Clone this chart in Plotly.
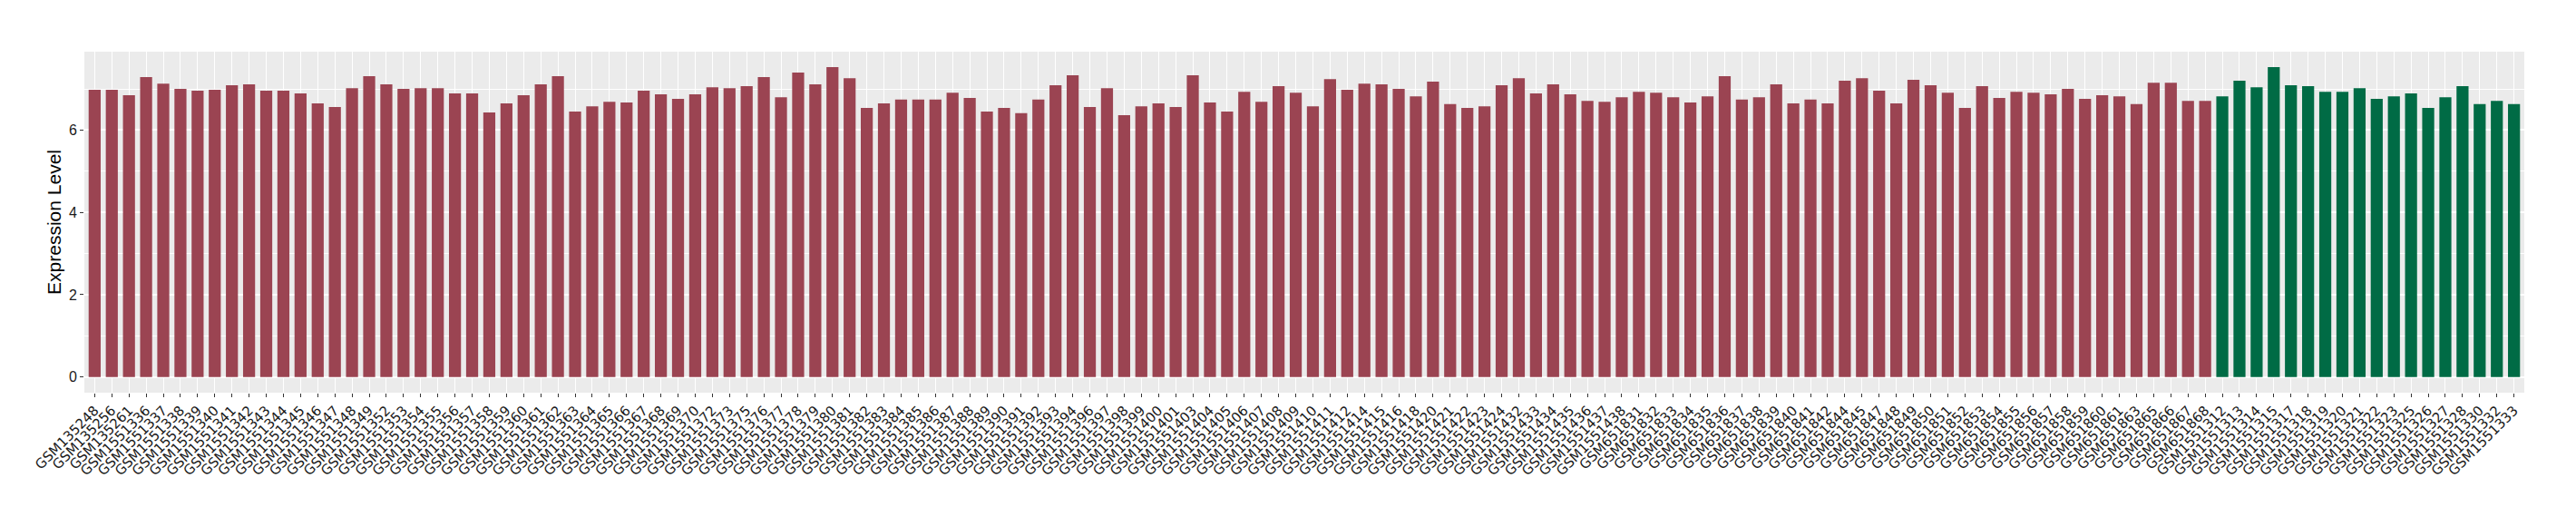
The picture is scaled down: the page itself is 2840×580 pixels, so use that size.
import plotly.graph_objects as go

red_samples = (
    ["GSM135248", "GSM135256", "GSM135261"]
    + ["GSM15513%d" % n for n in [36, 37, 38, 39, 40, 41, 42, 43, 44, 45, 46, 47, 48, 49,
                                  52, 53, 54, 55, 56, 57, 58, 59, 60, 61, 62, 63, 64, 65,
                                  66, 67, 68, 69, 70, 72, 73, 75, 76, 77, 78, 79, 80, 81,
                                  82, 83, 84, 85, 86, 87, 88, 89, 90, 91, 92, 93, 94, 96,
                                  97, 98, 99]]
    + ["GSM15514%02d" % n for n in [0, 1, 3, 4, 5, 6, 7, 8, 9, 10, 11, 12, 14, 15, 16, 18,
                                    20, 21, 22, 23, 24, 32, 33, 34, 35, 36, 37, 38]]
    + ["GSM6518%d" % n for n in [31, 32, 33, 34, 35, 36, 37, 38, 39, 40, 41, 42, 44, 45,
                                 47, 48, 49, 50, 51, 52, 53, 54, 55, 56, 57, 58, 59, 60,
                                 61, 63, 65, 66, 67, 68]]
)
green_samples = ["GSM15513%d" % n for n in [12, 13, 14, 15, 17, 18, 19, 20, 21, 22, 23,
                                            25, 26, 27, 28, 30, 32, 33]]

red_values = [
    6.98, 6.98, 6.85, 7.29, 7.13, 7.00, 6.96, 6.98, 7.09, 7.11,
    6.96, 6.96, 6.89, 6.65, 6.56, 7.02, 7.31, 7.11, 7.00, 7.02,
    7.02, 6.89, 6.89, 6.43, 6.65, 6.85, 7.11, 7.31, 6.45, 6.58,
    6.69, 6.67, 6.96, 6.87, 6.76, 6.87, 7.04, 7.02, 7.07, 7.29,
    6.80, 7.40, 7.11, 7.53, 7.26, 6.54, 6.65, 6.74, 6.74, 6.74,
    6.91, 6.78, 6.45, 6.54, 6.41, 6.74, 7.09, 7.33, 6.56, 7.02,
    6.36, 6.58, 6.65, 6.56, 7.33, 6.67, 6.45, 6.93, 6.69, 7.07,
    6.91, 6.58, 7.24, 6.98, 7.13, 7.11, 7.00, 6.82, 7.18, 6.63,
    6.54, 6.58, 7.09, 7.26, 6.89, 7.11, 6.87, 6.71, 6.69, 6.80,
    6.93, 6.91, 6.80, 6.67, 6.82, 7.31, 6.74, 6.80, 7.11, 6.65,
    6.74, 6.65, 7.20, 7.26, 6.96, 6.65, 7.22, 7.09, 6.91, 6.54,
    7.07, 6.78, 6.93, 6.91, 6.87, 7.00, 6.76, 6.85, 6.82, 6.63,
    7.15, 7.15, 6.71, 6.71,
]
green_values = [
    6.82, 7.20, 7.04, 7.53, 7.09, 7.07, 6.93, 6.93, 7.02, 6.76,
    6.82, 6.89, 6.54, 6.80, 7.07, 6.63, 6.71, 6.63,
]

y_ticks = [0, 2, 4, 6]
red_color = "#9B4452"
green_color = "#006B45"

categories = red_samples + green_samples

fig = go.Figure()
fig.add_trace(go.Bar(x=red_samples, y=red_values, marker_color=red_color,
                     marker_line_width=0, showlegend=False))
fig.add_trace(go.Bar(x=green_samples, y=green_values, marker_color=green_color,
                     marker_line_width=0, showlegend=False))

# page body has an 8px default margin, so the figure is sized to fit inside it
fig.update_layout(
    width=2824, height=564,
    margin=dict(l=85, r=49, t=49, b=139, autoexpand=False),
    paper_bgcolor="white",
    plot_bgcolor="#EBEBEB",
    bargap=0.3,
    barmode="overlay",
    font=dict(family="Liberation Sans, Arial, sans-serif", color="#333333"),
)
fig.update_xaxes(
    type="category",
    categoryorder="array", categoryarray=categories,
    range=[-0.6, len(categories) - 0.4],
    tickangle=-45,
    automargin=False,
    tickfont=dict(family="DejaVu Sans, sans-serif", size=15, color="#1a1a1a"),
    showgrid=True, gridcolor="white", gridwidth=1.2,
    ticks="outside", ticklen=4, tickcolor="#333333", tickwidth=1,
    zeroline=False, showline=False,
)
fig.update_yaxes(
    range=[-0.38, 7.905],
    tickvals=y_ticks,
    automargin=False,
    tickfont=dict(size=16, color="#1a1a1a"),
    showgrid=True, gridcolor="white", gridwidth=1.6,
    minor=dict(dtick=1, tick0=0, showgrid=True, gridcolor="white", gridwidth=0.7),
    ticks="outside", ticklen=4, tickcolor="#333333", tickwidth=1,
    zeroline=False, showline=False,
    title=dict(text="Expression Level", font=dict(size=21, color="black"), standoff=2),
)

fig.write_html("out.html")
